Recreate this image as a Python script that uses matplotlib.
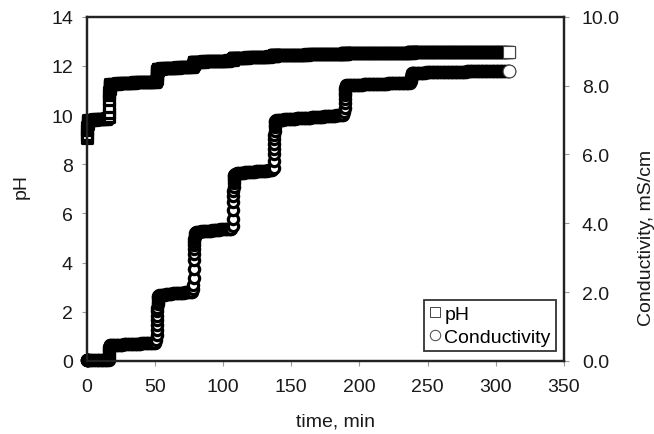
import matplotlib
matplotlib.use("Agg")
import matplotlib.pyplot as plt
from matplotlib.lines import Line2D
from matplotlib.ticker import FormatStrFormatter

plt.rcParams['font.family'] = ['Liberation Sans', 'DejaVu Sans']

# sampling times (min) - rapid readings right after each addition, then once per minute
time_min = [
    0.0, 0.1, 0.2, 0.3, 0.4, 0.5, 0.6,
    1, 2, 3, 4, 5, 6, 7, 8, 9, 10, 11, 12, 13, 14, 15,
    16.0, 16.1, 16.2, 16.3, 16.4, 16.5, 16.6, 16.7, 16.8, 16.9, 17.0, 17.1,
    18, 19, 20, 21, 22, 23, 24, 25, 26, 27, 28, 29, 30, 31, 32, 33, 34,
    35, 36, 37, 38, 39, 40, 41, 42, 43, 44, 45, 46, 47, 48, 49, 50,
    51.0, 51.1, 51.2, 51.3, 51.4, 51.5, 51.6, 51.7, 51.8, 51.9, 52.0, 52.1, 52.2,
    53, 54, 55, 56, 57, 58, 59, 60, 61, 62, 63, 64, 65, 66, 67, 68, 69,
    70, 71, 72, 73, 74, 75, 76, 77,
    78.0, 78.1, 78.2, 78.3, 78.4, 78.5, 78.6, 78.7, 78.8, 78.9, 79.0, 79.1, 79.2,
    80, 81, 82, 83, 84, 85, 86, 87, 88, 89, 90, 91, 92, 93, 94, 95, 96,
    97, 98, 99, 100, 101, 102, 103, 104, 105, 106,
    107.0, 107.1, 107.2, 107.3, 107.4, 107.5, 107.6, 107.7, 107.8, 107.9, 108.0, 108.1,
    109, 110, 111, 112, 113, 114, 115, 116, 117, 118, 119, 120, 121, 122,
    123, 124, 125, 126, 127, 128, 129, 130, 131, 132, 133, 134, 135, 136,
    137.0, 137.1, 137.2, 137.3, 137.4, 137.5, 137.6, 137.7, 137.8, 137.9, 138.0, 138.1,
    139, 140, 141, 142, 143, 144, 145, 146, 147, 148, 149, 150, 151, 152,
    153, 154, 155, 156, 157, 158, 159, 160, 161, 162, 163, 164, 165, 166,
    167, 168, 169, 170, 171, 172, 173, 174, 175, 176, 177, 178, 179, 180,
    181, 182, 183, 184, 185, 186, 187, 188,
    189.0, 189.1, 189.2, 189.3, 189.4, 189.5, 189.6, 189.7, 189.8, 189.9, 190.0,
    191, 192, 193, 194, 195, 196, 197, 198, 199, 200, 201, 202, 203, 204,
    205, 206, 207, 208, 209, 210, 211, 212, 213, 214, 215, 216, 217, 218,
    219, 220, 221, 222, 223, 224, 225, 226, 227, 228, 229, 230, 231, 232,
    233, 234, 235, 236, 237,
    238.0, 238.1, 238.2, 238.3, 238.4, 238.5, 238.6, 238.7, 238.8,
    239, 240, 241, 242, 243, 244, 245, 246, 247, 248, 249, 250, 251, 252,
    253, 254, 255, 256, 257, 258, 259, 260, 261, 262, 263, 264, 265, 266,
    267, 268, 269, 270, 271, 272, 273, 274, 275, 276, 277, 278, 279, 280,
    281, 282, 283, 284, 285, 286, 287, 288, 289, 290, 291, 292, 293, 294,
    295, 296, 297, 298, 299, 300, 301, 302, 303, 304, 305, 306, 307, 308,
    309, 310,
]

ph = [
    9.05, 9.20, 9.38, 9.52, 9.63, 9.72, 9.78,
    9.80, 9.81, 9.81, 9.82, 9.82, 9.83, 9.83, 9.84, 9.84, 9.85, 9.85, 9.85, 9.86, 9.86, 9.87,
    9.92, 10.10, 10.35, 10.60, 10.80, 10.95, 11.05, 11.12, 11.17, 11.21, 11.24, 11.26,
    11.27, 11.27, 11.28, 11.28, 11.28, 11.29, 11.29, 11.29, 11.30, 11.30, 11.30,
    11.31, 11.31, 11.31, 11.32, 11.32, 11.32, 11.33, 11.33, 11.33, 11.33,
    11.34, 11.34, 11.34, 11.34, 11.35, 11.35, 11.35, 11.35, 11.36, 11.36, 11.36, 11.36,
    11.40, 11.48, 11.56, 11.63, 11.69, 11.74, 11.78, 11.81, 11.83, 11.85, 11.86, 11.87, 11.88,
    11.89, 11.89, 11.90, 11.90, 11.90, 11.91, 11.91, 11.91, 11.92, 11.92, 11.92, 11.93, 11.93,
    11.93, 11.94, 11.94, 11.94, 11.95, 11.95, 11.95, 11.96, 11.96, 11.96, 11.97, 11.97,
    12.00, 12.04, 12.07, 12.10, 12.12, 12.13, 12.14, 12.15, 12.15, 12.16, 12.16, 12.16, 12.17,
    12.17, 12.17, 12.18, 12.18, 12.18, 12.18, 12.19, 12.19, 12.19, 12.19, 12.20, 12.20, 12.20,
    12.20, 12.21, 12.21, 12.21, 12.21, 12.21, 12.22, 12.22, 12.22, 12.22, 12.22, 12.23, 12.23, 12.23,
    12.25, 12.27, 12.28, 12.29, 12.30, 12.30, 12.31, 12.31, 12.31, 12.32, 12.32, 12.32,
    12.32, 12.32, 12.33, 12.33, 12.33, 12.34, 12.34, 12.34, 12.34, 12.35, 12.35, 12.35, 12.35, 12.36,
    12.36, 12.36, 12.36, 12.37, 12.37, 12.37, 12.37, 12.38, 12.38, 12.38, 12.38, 12.39, 12.39, 12.39,
    12.40, 12.41, 12.42, 12.42, 12.43, 12.43, 12.43, 12.44, 12.44, 12.44, 12.44, 12.44,
    12.44, 12.44, 12.44, 12.44, 12.44, 12.44, 12.45, 12.45, 12.45, 12.45, 12.45, 12.45, 12.45, 12.45,
    12.46, 12.46, 12.46, 12.46, 12.46, 12.46, 12.46, 12.46, 12.46, 12.47, 12.47, 12.47, 12.47, 12.47,
    12.47, 12.47, 12.47, 12.47, 12.48, 12.48, 12.48, 12.48, 12.48, 12.48, 12.48, 12.48, 12.48, 12.49,
    12.49, 12.49, 12.49, 12.49, 12.49, 12.49, 12.49, 12.49,
    12.49, 12.50, 12.50, 12.50, 12.51, 12.51, 12.51, 12.51, 12.51, 12.51, 12.51,
    12.51, 12.51, 12.51, 12.51, 12.51, 12.51, 12.51, 12.51, 12.51, 12.51, 12.51, 12.52, 12.52, 12.52,
    12.52, 12.52, 12.52, 12.52, 12.52, 12.52, 12.52, 12.52, 12.52, 12.53, 12.53, 12.53, 12.53, 12.53,
    12.53, 12.53, 12.53, 12.53, 12.53, 12.53, 12.53, 12.54, 12.54, 12.54, 12.54, 12.54, 12.54, 12.54,
    12.54, 12.54, 12.54, 12.54, 12.54,
    12.54, 12.54, 12.55, 12.55, 12.55, 12.55, 12.55, 12.55, 12.55,
    12.55, 12.55, 12.55, 12.55, 12.55, 12.55, 12.55, 12.55, 12.55, 12.55, 12.55, 12.55, 12.55, 12.55,
    12.55, 12.55, 12.55, 12.55, 12.56, 12.56, 12.56, 12.56, 12.56, 12.56, 12.56, 12.56, 12.56, 12.56,
    12.56, 12.56, 12.56, 12.56, 12.56, 12.56, 12.56, 12.56, 12.57, 12.57, 12.57, 12.57, 12.57, 12.57,
    12.57, 12.57, 12.57, 12.57, 12.57, 12.57, 12.57, 12.57, 12.57, 12.57, 12.57, 12.57, 12.58, 12.58,
    12.58, 12.58, 12.58, 12.58, 12.58, 12.58, 12.58, 12.58, 12.58, 12.58, 12.58, 12.58, 12.58, 12.58,
    12.58, 12.58,
]

cond = [
    0.02, 0.02, 0.02, 0.02, 0.02, 0.02, 0.02,
    0.02, 0.02, 0.02, 0.03, 0.03, 0.03, 0.03, 0.03, 0.03, 0.03, 0.03, 0.04, 0.04, 0.04, 0.04,
    0.04, 0.10, 0.20, 0.30, 0.36, 0.40, 0.42, 0.43, 0.44, 0.44, 0.45, 0.45,
    0.45, 0.45, 0.46, 0.46, 0.46, 0.47, 0.47, 0.47, 0.47, 0.48, 0.48, 0.48, 0.48, 0.49, 0.49,
    0.49, 0.49, 0.50, 0.50, 0.50, 0.50, 0.50, 0.51, 0.51, 0.51, 0.51, 0.51, 0.52, 0.52, 0.52,
    0.52, 0.52, 0.52,
    0.60, 0.75, 0.90, 1.05, 1.20, 1.32, 1.44, 1.55, 1.64, 1.72, 1.79, 1.85, 1.89,
    1.91, 1.92, 1.92, 1.93, 1.93, 1.94, 1.94, 1.95, 1.95, 1.95, 1.96, 1.96, 1.96, 1.97, 1.97,
    1.97, 1.98, 1.98, 1.98, 1.99, 1.99, 1.99, 2.00, 2.00, 2.00,
    2.08, 2.20, 2.42, 2.68, 2.92, 3.10, 3.24, 3.36, 3.46, 3.54, 3.61, 3.67, 3.71,
    3.74, 3.75, 3.76, 3.76, 3.77, 3.77, 3.78, 3.78, 3.78, 3.79, 3.79, 3.79, 3.80, 3.80,
    3.80, 3.81, 3.81, 3.81, 3.82, 3.82, 3.82, 3.83, 3.83, 3.83, 3.84, 3.84, 3.84,
    3.92, 4.12, 4.40, 4.62, 4.80, 4.95, 5.06, 5.16, 5.25, 5.32, 5.37, 5.41,
    5.44, 5.45, 5.45, 5.46, 5.46, 5.47, 5.47, 5.48, 5.48, 5.49, 5.49, 5.49, 5.50, 5.50,
    5.50, 5.51, 5.51, 5.51, 5.52, 5.52, 5.52, 5.53, 5.53, 5.53, 5.54, 5.54, 5.55, 5.55,
    5.62, 5.80, 6.00, 6.16, 6.31, 6.45, 6.58, 6.69, 6.79, 6.87, 6.93, 6.97,
    7.00, 7.00, 7.00, 7.01, 7.01, 7.01, 7.02, 7.02, 7.02, 7.03, 7.03, 7.03, 7.04, 7.04,
    7.04, 7.05, 7.05, 7.05, 7.05, 7.06, 7.06, 7.06, 7.06, 7.07, 7.07, 7.07, 7.08, 7.08,
    7.08, 7.09, 7.09, 7.09, 7.10, 7.10, 7.10, 7.11, 7.11, 7.11, 7.12, 7.12, 7.12, 7.13,
    7.13, 7.13, 7.14, 7.14, 7.14, 7.15, 7.15, 7.15,
    7.22, 7.36, 7.50, 7.62, 7.72, 7.80, 7.87, 7.92, 7.96, 7.99, 8.01,
    8.02, 8.02, 8.02, 8.02, 8.02, 8.02, 8.03, 8.03, 8.03, 8.03, 8.03, 8.03, 8.04, 8.04,
    8.04, 8.04, 8.04, 8.04, 8.05, 8.05, 8.05, 8.05, 8.05, 8.05, 8.06, 8.06, 8.06, 8.06,
    8.06, 8.06, 8.07, 8.07, 8.07, 8.07, 8.07, 8.07, 8.08, 8.08, 8.08, 8.08, 8.08, 8.08,
    8.09, 8.09, 8.09, 8.09, 8.09,
    8.14, 8.20, 8.25, 8.29, 8.32, 8.34, 8.35, 8.36, 8.37,
    8.38, 8.38, 8.38, 8.38, 8.38, 8.38, 8.38, 8.38, 8.38, 8.38, 8.39, 8.39, 8.39, 8.39,
    8.39, 8.39, 8.39, 8.39, 8.39, 8.39, 8.40, 8.40, 8.40, 8.40, 8.40, 8.40, 8.40, 8.40,
    8.40, 8.40, 8.41, 8.41, 8.41, 8.41, 8.41, 8.41, 8.41, 8.41, 8.41, 8.41, 8.42, 8.42,
    8.42, 8.42, 8.42, 8.42, 8.42, 8.42, 8.42, 8.42, 8.43, 8.43, 8.43, 8.43, 8.43, 8.43,
    8.43, 8.43, 8.43, 8.43, 8.43, 8.44, 8.44, 8.44, 8.44, 8.44, 8.44, 8.44, 8.44, 8.44,
    8.44, 8.44,
]

fig = plt.figure(figsize=(6.54, 4.35), dpi=100)
ax = fig.add_axes([0.133, 0.168, 0.729, 0.791])
ax2 = ax.twinx()

# dense overlapping open markers -> black band, as in the original
ax.scatter(time_min, ph, marker='s', s=7.0 ** 2, facecolors='white',
           edgecolors='black', linewidths=2.3, clip_on=False, zorder=2)
ax2.scatter(time_min, cond, marker='o', s=7.4 ** 2, facecolors='white',
            edgecolors='black', linewidths=2.3, clip_on=False, zorder=2)
# last reading sits on top with the thin outline of the original
ax.scatter(time_min[-1:], ph[-1:], marker='s', s=8.8 ** 2, facecolors='white',
           edgecolors='#444444', linewidths=0.8, clip_on=False, zorder=3)
ax2.scatter(time_min[-1:], cond[-1:], marker='o', s=9.2 ** 2, facecolors='white',
            edgecolors='#444444', linewidths=0.8, clip_on=False, zorder=3)

ax.set_xlim(0, 350)
ax.set_ylim(0, 14)
ax2.set_ylim(0, 10)
ax.set_xticks(range(0, 351, 50))
ax.set_yticks(range(0, 15, 2))
ax2.set_yticks([0, 2, 4, 6, 8, 10])
ax2.yaxis.set_major_formatter(FormatStrFormatter('%.1f'))

for a in (ax, ax2):
    for s in a.spines.values():
        s.set_linewidth(1.6)
        s.set_color('#222222')
    a.tick_params(direction='out', length=3.6, width=0.8, color='#999999',
                  labelsize=14, labelcolor='#1a1a1a')
ax.tick_params(axis='x', pad=9)
ax.tick_params(axis='y', pad=6.5)
ax2.tick_params(axis='y', pad=9.5)

ax.set_xlabel('time, min', fontsize=14, color='#1a1a1a')
ax.xaxis.set_label_coords(0.522, -0.151)
ax.set_ylabel('pH', fontsize=14, color='#1a1a1a')
ax.yaxis.set_label_coords(-0.1205, 0.509)
ax2.set_ylabel('Conductivity, mS/cm', fontsize=14, color='#1a1a1a')
ax2.yaxis.set_label_coords(1.155, 0.36)

handles = [
    Line2D([], [], linestyle='none', marker='s', markersize=7.5,
           markerfacecolor='white', markeredgecolor='#444444', markeredgewidth=0.7),
    Line2D([], [], linestyle='none', marker='o', markersize=7.5,
           markerfacecolor='white', markeredgecolor='#444444', markeredgewidth=0.7),
]
leg = ax2.legend(handles, ['pH', 'Conductivity'], loc='lower right',
                 bbox_to_anchor=(0.983, 0.029), fontsize=14, frameon=True,
                 fancybox=False, handlelength=0.6, handletextpad=0.2,
                 borderpad=0.25, labelspacing=0.3, borderaxespad=0)
leg.get_frame().set_edgecolor('black')
leg.get_frame().set_linewidth(1.3)

fig.savefig('out.png', dpi=100)
